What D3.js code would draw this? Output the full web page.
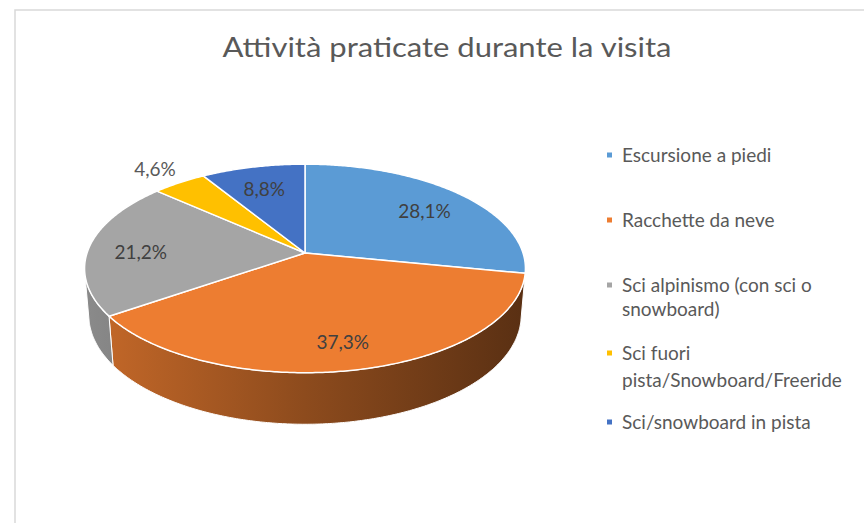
<!DOCTYPE html>
<html>
<head>
<meta charset="utf-8">
<script src="https://cdn.jsdelivr.net/npm/d3@7"></script>
<style>
  html, body { margin: 0; padding: 0; background: #ffffff; }
  svg { display: block; }
</style>
</head>
<body>
<svg id="chart" width="864" height="523"></svg>
<script>
// ---- data ----
const title = "Attività praticate durante la visita";
const categories = [
  "Escursione a piedi",
  "Racchette da neve",
  "Sci alpinismo (con sci o snowboard)",
  "Sci fuori pista/Snowboard/Freeride",
  "Sci/snowboard in pista"
];
const values = [28.1, 37.3, 21.2, 4.6, 8.8];
const valueLabels = ["28,1%", "37,3%", "21,2%", "4,6%", "8,8%"];
const legendLines = [
  ["Escursione a piedi"],
  ["Racchette da neve"],
  ["Sci alpinismo (con sci o", "snowboard)"],
  ["Sci fuori", "pista/Snowboard/Freeride"],
  ["Sci/snowboard in pista"]
];
const colors = ["#5B9BD5", "#ED7D31", "#A5A5A5", "#FFC000", "#4472C4"];

// ---- layout ----
const svg = d3.select("#chart");
const W = 864, H = 523;
const CX = 305, CY = 253, RX = 218, RY = 102;
const SIN_E = RY / RX, COS_E = Math.sqrt(1 - SIN_E * SIN_E);
const DIST = COS_E / 0.148;          // camera distance (in radius units)
const FOC = RX * DIST;
const THICK = 0.245;                // pie thickness (in radius units)
const FONT = "Lato, 'Liberation Sans', sans-serif";

svg.append("rect").attr("width", W).attr("height", H).attr("fill", "#fff");
svg.append("rect").attr("x", 15).attr("y", 10).attr("width", 900).attr("height", 600)
  .attr("fill", "none").attr("stroke", "#d9d9d9").attr("stroke-width", 1.5);

svg.append("text").attr("x", 447).attr("y", 57).attr("text-anchor", "middle")
  .attr("font-family", FONT).attr("font-size", 26).attr("fill", "#595959")
  .attr("textLength", 449).attr("lengthAdjust", "spacingAndGlyphs").text(title);

// perspective projection of a point on the top face (angle a clockwise from 12 o'clock)
function topPt(a, r = 1) {
  const k = FOC / (DIST + r * Math.cos(a) * COS_E);
  return [CX + r * Math.sin(a) * k, CY - r * Math.cos(a) * SIN_E * k];
}
function botPt(a) {
  const k = FOC / (DIST + THICK * SIN_E + Math.cos(a) * COS_E);
  return [CX + Math.sin(a) * k, CY + (THICK * COS_E - Math.cos(a) * SIN_E) * k];
}
function arcPts(a0, a1, fn) {
  const n = Math.max(2, Math.ceil((a1 - a0) / 0.01));
  const pts = [];
  for (let i = 0; i <= n; i++) pts.push(fn(a0 + (a1 - a0) * i / n));
  return pts;
}

const pie = d3.pie().sort(null).value(d => d);
const arcs = pie(values);

// visible range of the cylinder wall
const cLim = Math.acos(-1 / (DIST * COS_E));
const visLo = cLim, visHi = 2 * Math.PI - cLim;

// gradients for sides
const defs = svg.append("defs");
colors.forEach((c, i) => {
  const g = defs.append("linearGradient").attr("id", "side" + i)
    .attr("gradientUnits", "userSpaceOnUse")
    .attr("x1", CX - RX).attr("x2", CX + RX).attr("y1", 0).attr("y2", 0);
  [[0, 0.5], [0.5, 1.45], [1, 2.7]].forEach(([o, k]) => {
    g.append("stop").attr("offset", o).attr("stop-color", d3.color(c).darker(k).formatHex());
  });
});

const line = d3.line();
// sides
const sideG = svg.append("g");
arcs.forEach((d, i) => {
  const lo = Math.max(d.startAngle, visLo), hi = Math.min(d.endAngle, visHi);
  if (hi <= lo) return;
  const t = arcPts(lo, hi, a => topPt(a));
  const b = arcPts(lo, hi, a => botPt(a)).reverse();
  sideG.append("path").attr("d", line(t.concat(b)) + "Z")
    .attr("fill", `url(#side${i})`).attr("stroke", "#fff").attr("stroke-width", 1)
    .attr("stroke-linejoin", "round");
});

// top faces
const topG = svg.append("g");
arcs.forEach((d, i) => {
  const pts = [[CX, CY]].concat(arcPts(d.startAngle, d.endAngle, a => topPt(a)));
  topG.append("path").attr("d", line(pts) + "Z")
    .attr("fill", colors[i]).attr("stroke", "#fff").attr("stroke-width", 1.5)
    .attr("stroke-linejoin", "round");
});

// data labels
arcs.forEach((d, i) => {
  const mid = (d.startAngle + d.endAngle) / 2;
  const outside = values[i] < 5;
  const [x, y] = topPt(mid, outside ? 1.22 : 0.76);
  svg.append("text").attr("x", x).attr("y", y + (outside ? 0 : 4)).attr("dy", "0.35em")
    .attr("text-anchor", "middle").attr("font-family", FONT).attr("font-size", 19)
    .attr("fill", outside ? "#595959" : "#404040").text(valueLabels[i]);
});

// legend
const legendY = [[155], [220], [285, 309], [353, 380], [422]];
const lg = svg.append("g");
legendLines.forEach((lines, i) => {
  lg.append("rect").attr("x", 607).attr("y", legendY[i][0] - 2.5).attr("width", 5).attr("height", 5)
    .attr("fill", colors[i]);
  lines.forEach((t, j) => {
    lg.append("text").attr("x", 622).attr("y", legendY[i][j]).attr("dy", "0.35em")
      .attr("font-family", FONT).attr("font-size", 19).attr("fill", "#595959").text(t);
  });
});
</script>
</body>
</html>
